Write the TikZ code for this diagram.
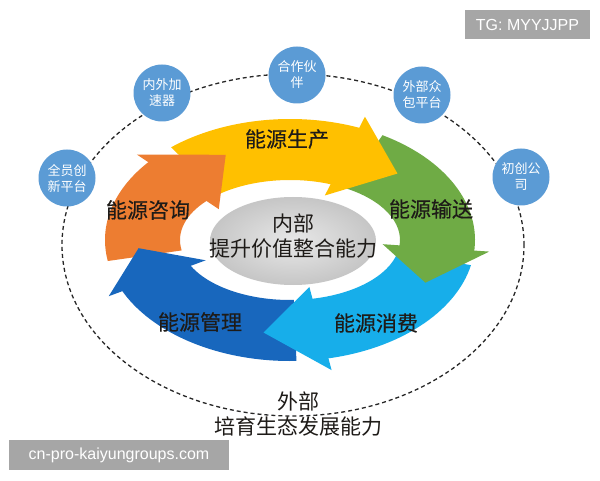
\documentclass[tikz,border=0pt]{standalone}
\usepackage{fontspec}
\setmainfont{Liberation Sans}
\newfontfamily\cjk{Noto Sans CJK SC}
\newfontfamily\cjkb[FakeBold=0.4]{Noto Sans CJK SC}
\definecolor{cyellow}{HTML}{FFC000}
\definecolor{cgreen}{HTML}{6FAB45}
\definecolor{clblue}{HTML}{17AEEA}
\definecolor{cdblue}{HTML}{1867BD}
\definecolor{corange}{HTML}{ED7D31}
\definecolor{ccircle}{HTML}{5B9BD5}
\definecolor{wmgray}{HTML}{A6A6A6}
\definecolor{lbltext}{HTML}{1E1B18}
\newcommand\arrbody[3]{%
  \fill[#1] ({290+185*cos(#2)},{240+121*sin(#2)}) arc[start angle=#2, end angle=#3, x radius=185pt, y radius=121pt]
    -- ({290+110*cos(#3)},{240+60*sin(#3)}) arc[start angle=#3, end angle=#2, x radius=110pt, y radius=60pt] -- cycle;}
\newcommand\arrhead[3]{%
  \fill[#1] ({290+200*cos(#2)},{240+133*sin(#2)}) -- ({290+152*cos(#3)},{240+94*sin(#3)})
    -- ({290+93*cos(#2)},{240+48*sin(#2)}) -- cycle;}
\tikzset{
  bub/.style={circle, fill=ccircle, minimum size=57pt, inner sep=0pt, text=white, align=center,
    font=\cjk\fontsize{13}{16}\selectfont},
  lbl/.style={text=lbltext, align=center, inner sep=0pt, font=\cjkb\fontsize{21}{25}\selectfont},
  plainlbl/.style={text=lbltext, align=center, inner sep=0pt, font=\cjk\fontsize{21}{25}\selectfont},
  wm/.style={fill=wmgray, text=white, inner sep=0pt, font=\fontsize{16}{16}\selectfont}
}
\begin{document}
\begin{tikzpicture}[x=1pt,y=1pt]
\useasboundingbox (0,0) rectangle (600,480);
\fill[white] (0,0) rectangle (600,480);
% outer dashed ellipse
\draw[black!85, line width=1.3pt, dash pattern=on 4pt off 3pt] (293,235) ellipse [x radius=231pt, y radius=171pt];
% outer bubbles
\node[bub] (c1) at (67,302) {全员创\\新平台};
\node[bub] (c2) at (162,387) {内外加\\速器};
\node[bub] (c3) at (297,405) {合作伙\\伴};
\node[bub] (c4) at (422,385) {外部众\\包平台};
\node[bub] (c5) at (521,303) {初创公\\司};
% ring bodies
\arrbody{cyellow}{130}{67}
\arrbody{cgreen}{60}{-6}
\arrbody{clblue}{-12}{-79}
\arrbody{cdblue}{-88}{-156}
\arrbody{corange}{190}{139}
% ring heads
\arrhead{cyellow}{68}{45}
\arrhead{cgreen}{-5}{-27}
\arrhead{clblue}{-78}{-100}
\arrhead{cdblue}{-155}{-175}
\arrhead{corange}{140}{115}
% centre
\shade[inner color=gray!18, outer color=gray!45] (293,239) ellipse [x radius=83pt, y radius=44pt];
\node[plainlbl] (inner) at (293,244) {内部\\提升价值整合能力};
% ring labels
\node[lbl] (l1) at (287,341) {能源生产};
\node[lbl] (l2) at (431,271) {能源输送};
\node[lbl] (l3) at (376,157) {能源消费};
\node[lbl] (l4) at (200,158) {能源管理};
\node[lbl] (l5) at (148,270) {能源咨询};
% outer label
\node[plainlbl] (outer) at (298,66) {外部\\培育生态发展能力};
% watermarks
\node[wm, minimum width=125pt, minimum height=29pt] (tg) at (527.5,455.5) {TG: MYYJJPP};
\node[wm, minimum width=220pt, minimum height=30pt] (site) at (119,25) {cn-pro-kaiyungroups.com};
\end{tikzpicture}
\end{document}
